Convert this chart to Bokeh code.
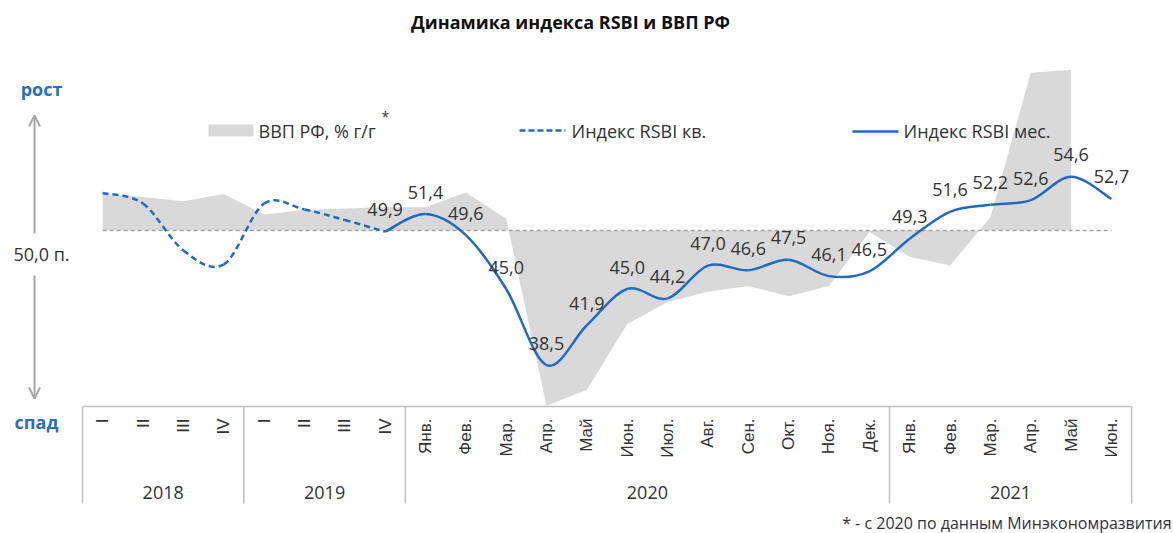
import numpy as np
from bokeh.plotting import figure
from bokeh.models import Range1d, Arrow, OpenHead, ColumnDataSource
from bokeh.core.properties import value
from bokeh.embed import file_html
from bokeh.resources import INLINE

# ---------------- data ----------------
years = ["2018", "2019", "2020", "2021"]
quarters = ["I", "II", "III", "IV", "I", "II", "III", "IV"]
months_2020 = ["Янв.", "Фев.", "Мар.", "Апр.", "Май", "Июн.", "Июл.", "Авг.", "Сен.", "Окт.", "Ноя.", "Дек."]
months_2021 = ["Янв.", "Фев.", "Мар.", "Апр.", "Май", "Июн."]
group_sizes = [4, 4, 12, 6]

# RSBI quarterly index (2018-2019)
rsbi_q = [53.2, 52.3, 48.3, 47.1, 52.3, 51.8, 50.9, 49.9]
# RSBI monthly index (2020 - Jun 2021)
rsbi_m = [51.4, 49.6, 45.0, 38.5, 41.9, 45.0, 44.2, 47.0, 46.6, 47.5, 46.1, 46.5,
          49.3, 51.6, 52.2, 52.6, 54.6, 52.7]
# GDP, % y/y (quarterly 2018-2019, monthly 2020 - May 2021)
gdp = [2.5, 2.3, 2.0, 2.5, 1.1, 1.4, 1.5, 1.6,
       1.6, 2.6, 0.8, -12.0, -10.9, -6.4, -4.9, -4.2, -3.8, -4.5, -3.8, -0.1,
       -1.8, -2.4, 0.9, 10.8, 11.0]

title = "Динамика индекса RSBI и ВВП РФ"
legend_gdp = "ВВП РФ, % г/г"
legend_q = "Индекс RSBI кв."
legend_m = "Индекс RSBI мес."
footnote = "* - с 2020 по данным Минэкономразвития"

# ---------------- layout helpers ----------------
W, H = 1173, 533
X0, CW = 82.0, 40.35          # left edge of category table, category width (px)
BASE_PY, PX_PER_UNIT = 230.0, 11.7
GDP_PX = 14.6

def X(px):
    return (px - X0) / CW - 0.5

def Y(py):
    return 50.0 + (BASE_PY - py) / PX_PER_UNIT

BLUE = "#1f6bc4"
TXT = "#333333"
GRID = "#bfbfbf"
FONT = "Open Sans"

p = figure(width=W, height=H, output_backend="svg", toolbar_location=None,
           x_range=Range1d(X(0), X(W)), y_range=Range1d(Y(H), Y(0)),
           x_axis_location=None, y_axis_location=None, min_border=0,
           outline_line_color=None, background_fill_color="white",
           border_fill_color="white")
p.grid.visible = False
p.extra_y_ranges = {"gdp": Range1d(-(H - BASE_PY) / GDP_PX, BASE_PY / GDP_PX)}

n_cat = sum(group_sizes)

# GDP area
gx = list(range(len(gdp)))
p.varea(x=gx, y1=[0] * len(gdp), y2=gdp, fill_color="#d9d9d9", y_range_name="gdp")

# baseline 50
p.line(x=[0, n_cat - 1], y=[50, 50], line_color="#a6a6a6", line_width=1.5, line_dash="4 3")

# smooth curves (Catmull-Rom style bezier segments through the data points)
def bezier_src(xs, ys):
    xs = np.asarray(xs, float); ys = np.asarray(ys, float)
    n = len(xs)
    d = dict(x0=[], y0=[], x1=[], y1=[], cx0=[], cy0=[], cx1=[], cy1=[])
    for i in range(n - 1):
        a = max(i - 1, 0); b = min(i + 2, n - 1)
        d["x0"].append(xs[i]); d["y0"].append(ys[i])
        d["x1"].append(xs[i + 1]); d["y1"].append(ys[i + 1])
        d["cx0"].append(xs[i] + (xs[i + 1] - xs[a]) / 6)
        d["cy0"].append(ys[i] + (ys[i + 1] - ys[a]) / 6)
        d["cx1"].append(xs[i + 1] - (xs[b] - xs[i]) / 6)
        d["cy1"].append(ys[i + 1] - (ys[b] - ys[i]) / 6)
    return ColumnDataSource(d)

qx = list(range(len(rsbi_q)))
p.bezier(x0="x0", y0="y0", x1="x1", y1="y1", cx0="cx0", cy0="cy0", cx1="cx1", cy1="cy1",
         source=bezier_src(qx, rsbi_q), line_color=BLUE, line_width=2.5, line_dash="6 4")

mx = [len(rsbi_q) - 1] + [len(rsbi_q) + i for i in range(len(rsbi_m))]
my = [rsbi_q[-1]] + rsbi_m
p.bezier(x0="x0", y0="y0", x1="x1", y1="y1", cx0="cx0", cy0="cy0", cx1="cx1", cy1="cy1",
         source=bezier_src(mx, my), line_color=BLUE, line_width=2.5)

# data labels
lbl = [f"{v:.1f}".replace(".", ",") for v in my]
p.text(x=mx, y=my, text=lbl, y_offset=-22, text_align="center", text_baseline="middle",
       text_font=value(FONT), text_font_size="18px", text_color=TXT)

# ---------------- category table ----------------
top_py, bot_py = 406, 503
p.segment(x0=[X(X0)], y0=[Y(top_py)], x1=[X(X0 + CW * n_cat)], y1=[Y(top_py)],
          line_color=GRID, line_width=1.5)
edges = np.cumsum([0] + group_sizes)
p.segment(x0=[e - 0.5 for e in edges], y0=[Y(top_py)] * len(edges),
          x1=[e - 0.5 for e in edges], y1=[Y(bot_py)] * len(edges),
          line_color=GRID, line_width=1.5)

cat_labels = quarters + months_2020 + months_2021
p.text(x=list(range(n_cat)), y=[Y(418)] * n_cat, text=cat_labels, angle=np.pi / 2,
       text_align="right", text_baseline="middle", text_font=value("Liberation Sans"),
       text_font_size="17px", text_color=TXT)

centers = [(edges[i] + edges[i + 1] - 1) / 2 for i in range(len(years))]
p.text(x=centers, y=[Y(492)] * len(years), text=years, text_align="center",
       text_baseline="middle", text_font=value(FONT), text_font_size="18px", text_color=TXT)

# ---------------- title, legend, notes ----------------
p.text(x=[X(570)], y=[Y(21)], text=[title], text_align="center", text_baseline="middle",
       text_font=value(FONT), text_font_size="18px", text_font_style="bold", text_color="#111111")

p.quad(left=[X(208)], right=[X(253)], top=[Y(124)], bottom=[Y(136)], fill_color="#d9d9d9", line_color=None)
p.text(x=[X(258)], y=[Y(130)], text=[legend_gdp], text_align="left", text_baseline="middle",
       text_font=value(FONT), text_font_size="18px", text_color=TXT)
p.text(x=[X(381)], y=[Y(116)], text=["*"], text_align="left", text_baseline="middle",
       text_font=value(FONT), text_font_size="14px", text_color=TXT)

p.line(x=[X(519), X(565)], y=[Y(130), Y(130)], line_color=BLUE, line_width=2.5, line_dash="6 3")
p.text(x=[X(571)], y=[Y(130)], text=[legend_q], text_align="left", text_baseline="middle",
       text_font=value(FONT), text_font_size="18px", text_color=TXT)

p.line(x=[X(852), X(898)], y=[Y(131), Y(131)], line_color=BLUE, line_width=2.5)
p.text(x=[X(903)], y=[Y(130)], text=[legend_m], text_align="left", text_baseline="middle",
       text_font=value(FONT), text_font_size="18px", text_color=TXT)

p.text(x=[X(1171)], y=[Y(522)], text=[footnote], text_align="right", text_baseline="middle",
       text_font=value(FONT), text_font_size="16px", text_color=TXT)

# left growth / decline indicator
p.text(x=[X(41)], y=[Y(88)], text=["рост"], text_align="center", text_baseline="middle",
       text_font=value(FONT), text_font_size="18px", text_font_style="bold", text_color="#2a6fc0")
p.text(x=[X(36)], y=[Y(421)], text=["спад"], text_align="center", text_baseline="middle",
       text_font=value(FONT), text_font_size="18px", text_font_style="bold", text_color="#2a6fc0")
p.text(x=[X(41)], y=[Y(253)], text=["50,0 п."], text_align="center", text_baseline="middle",
       text_font=value(FONT), text_font_size="18px", text_color=TXT)

for ys, ye in [(233, 115), (275, 398)]:
    p.add_layout(Arrow(end=OpenHead(size=11, line_color="#a6a6a6", line_width=2),
                       x_start=X(34), y_start=Y(ys), x_end=X(34), y_end=Y(ye),
                       line_color="#a6a6a6", line_width=2))

open("out.html", "w").write(file_html(p, INLINE))
